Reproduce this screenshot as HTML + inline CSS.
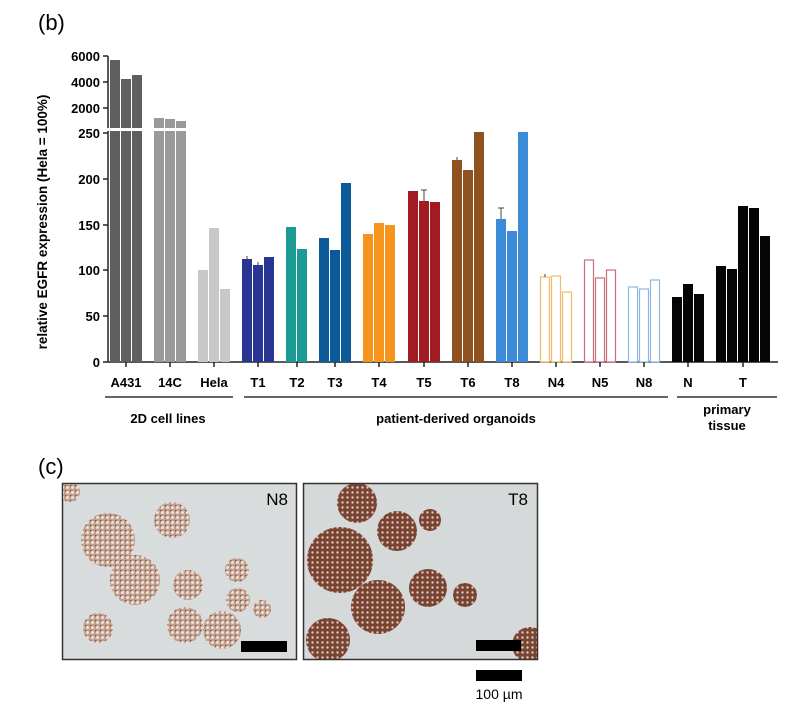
<!DOCTYPE html>
<html><head><meta charset="utf-8"><style>
html,body{margin:0;padding:0;background:#fff}
svg{display:block}
text{font-family:"Liberation Sans",Arial,sans-serif}
.b{font-weight:bold}
</style></head><body>
<svg width="798" height="715" viewBox="0 0 798 715" xmlns="http://www.w3.org/2000/svg">
<defs>
<pattern id="cells" width="5" height="5" patternUnits="userSpaceOnUse">
<rect width="5" height="5" fill="#6e3320"/>
<circle cx="2.5" cy="2.5" r="1.2" fill="#e2c8b6"/>
</pattern>
<pattern id="cellsL" width="5" height="5" patternUnits="userSpaceOnUse">
<rect width="5" height="5" fill="#bf9480"/>
<circle cx="2.5" cy="2.5" r="1.5" fill="#ece2da"/>
<circle cx="0.7" cy="0.7" r="0.7" fill="#5a2a1a"/>
</pattern>
<clipPath id="c1"><rect x="63" y="484" width="233" height="175"/></clipPath>
<clipPath id="c2"><rect x="304" y="484" width="233" height="175"/></clipPath>
</defs>
<text x="38" y="30" font-size="22">(b)</text>
<text transform="translate(47,222) rotate(-90)" text-anchor="middle" font-size="13.5" class="b">relative EGFR expression (Hela = 100%)</text>
<g stroke="#222" stroke-width="1.5">
<line x1="108" y1="56" x2="108" y2="362"/>
<line x1="108" y1="362" x2="778" y2="362"/>
<line x1="103" y1="56" x2="108" y2="56"/><line x1="103" y1="82" x2="108" y2="82"/><line x1="103" y1="108" x2="108" y2="108"/>
<line x1="103" y1="133" x2="108" y2="133"/><line x1="103" y1="179" x2="108" y2="179"/><line x1="103" y1="225" x2="108" y2="225"/>
<line x1="103" y1="270" x2="108" y2="270"/><line x1="103" y1="316" x2="108" y2="316"/><line x1="103" y1="362" x2="108" y2="362"/>
</g>
<g font-size="13" class="b" text-anchor="end">
<text x="100" y="61">6000</text><text x="100" y="87">4000</text><text x="100" y="113">2000</text>
<text x="100" y="138">250</text><text x="100" y="184">200</text><text x="100" y="230">150</text>
<text x="100" y="275">100</text><text x="100" y="321">50</text><text x="100" y="367">0</text>
</g>
<g fill="#5f5f5f"><rect x="110" y="60" width="10" height="302"/><rect x="121" y="79" width="10" height="283"/><rect x="132" y="75" width="10" height="287"/></g>
<g fill="#9a9a9a"><rect x="154" y="118" width="10" height="244"/><rect x="165" y="119" width="10" height="243"/><rect x="176" y="121" width="10" height="241"/></g>
<g fill="#c8c8c8"><rect x="198" y="270" width="10" height="92"/><rect x="209" y="228" width="10" height="134"/><rect x="220" y="289" width="10" height="73"/></g>
<g fill="#283593"><rect x="242" y="259" width="10" height="103"/><rect x="253" y="265" width="10" height="97"/><rect x="264" y="257" width="10" height="105"/></g>
<g fill="#1c9a94"><rect x="286" y="227" width="10" height="135"/><rect x="297" y="249" width="10" height="113"/></g>
<g fill="#0d5a9a"><rect x="319" y="238" width="10" height="124"/><rect x="330" y="250" width="10" height="112"/><rect x="341" y="183" width="10" height="179"/></g>
<g fill="#f7941d"><rect x="363" y="234" width="10" height="128"/><rect x="374" y="223" width="10" height="139"/><rect x="385" y="225" width="10" height="137"/></g>
<g fill="#a01b22"><rect x="408" y="191" width="10" height="171"/><rect x="419" y="201" width="10" height="161"/><rect x="430" y="202" width="10" height="160"/></g>
<g fill="#8f521f"><rect x="452" y="160" width="10" height="202"/><rect x="463" y="170" width="10" height="192"/><rect x="474" y="132" width="10" height="230"/></g>
<g fill="#3b8bd6"><rect x="496" y="219" width="10" height="143"/><rect x="507" y="231" width="10" height="131"/><rect x="518" y="132" width="10" height="230"/></g>
<g fill="#fff" stroke-width="1.2">
<g stroke="#f4b96a"><rect x="540.5" y="277" width="9" height="85"/><rect x="551.5" y="276" width="9" height="86"/><rect x="562.5" y="292" width="9" height="70"/></g>
<g stroke="#c96f78"><rect x="584.5" y="260" width="9" height="102"/><rect x="595.5" y="278" width="9" height="84"/><rect x="606.5" y="270" width="9" height="92"/></g>
<g stroke="#8fb6e3"><rect x="628.5" y="287" width="9" height="75"/><rect x="639.5" y="289" width="9" height="73"/><rect x="650.5" y="280" width="9" height="82"/></g>
</g>
<g fill="#050505"><rect x="672" y="297" width="10" height="65"/><rect x="683" y="284" width="10" height="78"/><rect x="694" y="294" width="10" height="68"/>
<rect x="716" y="266" width="10" height="96"/><rect x="727" y="269" width="10" height="93"/><rect x="738" y="206" width="10" height="156"/><rect x="749" y="208" width="10" height="154"/><rect x="760" y="236" width="10" height="126"/></g>
<g stroke="#444" stroke-width="1"><line x1="247" y1="259" x2="247" y2="256"/><line x1="258" y1="265" x2="258" y2="262"/><line x1="424" y1="201" x2="424" y2="190"/><line x1="421" y1="190" x2="427" y2="190"/><line x1="457" y1="160" x2="457" y2="157"/><line x1="501" y1="219" x2="501" y2="208"/><line x1="498" y1="208" x2="504" y2="208"/><line x1="545" y1="277" x2="545" y2="274"/></g>
<rect x="100" y="128" width="90" height="3" fill="#fff"/>
<g stroke="#222" stroke-width="1.5">
<line x1="126" y1="362" x2="126" y2="367"/><line x1="170" y1="362" x2="170" y2="367"/><line x1="214" y1="362" x2="214" y2="367"/><line x1="258" y1="362" x2="258" y2="367"/><line x1="297" y1="362" x2="297" y2="367"/><line x1="335" y1="362" x2="335" y2="367"/><line x1="379" y1="362" x2="379" y2="367"/><line x1="424" y1="362" x2="424" y2="367"/><line x1="468" y1="362" x2="468" y2="367"/><line x1="512" y1="362" x2="512" y2="367"/><line x1="556" y1="362" x2="556" y2="367"/><line x1="600" y1="362" x2="600" y2="367"/><line x1="644" y1="362" x2="644" y2="367"/><line x1="688" y1="362" x2="688" y2="367"/><line x1="743" y1="362" x2="743" y2="367"/>
</g>
<g font-size="13" class="b" text-anchor="middle">
<text x="126" y="387">A431</text><text x="170" y="387">14C</text><text x="214" y="387">Hela</text><text x="258" y="387">T1</text><text x="297" y="387">T2</text><text x="335" y="387">T3</text><text x="379" y="387">T4</text><text x="424" y="387">T5</text><text x="468" y="387">T6</text><text x="512" y="387">T8</text><text x="556" y="387">N4</text><text x="600" y="387">N5</text><text x="644" y="387">N8</text><text x="688" y="387">N</text><text x="743" y="387">T</text>
</g>
<g stroke="#333" stroke-width="1.5"><line x1="105" y1="397" x2="233" y2="397"/><line x1="244" y1="397" x2="668" y2="397"/><line x1="677" y1="397" x2="777" y2="397"/></g>
<g font-size="13" class="b" text-anchor="middle">
<text x="168" y="423">2D cell lines</text><text x="456" y="423">patient-derived organoids</text><text x="727" y="414">primary</text><text x="727" y="430">tissue</text>
</g>
<text x="38" y="474" font-size="22">(c)</text>
<rect x="62.5" y="483.5" width="234" height="176" fill="#d9dcdc" stroke="#333" stroke-width="1.5"/>
<rect x="303.5" y="483.5" width="234" height="176" fill="#d6d9d9" stroke="#333" stroke-width="1.5"/>
<g opacity="0.85" clip-path="url(#c1)">
<circle cx="108" cy="540" r="27" fill="url(#cellsL)"/><circle cx="135" cy="580" r="25" fill="url(#cellsL)"/>
<circle cx="172" cy="520" r="18" fill="url(#cellsL)"/><circle cx="98" cy="628" r="15" fill="url(#cellsL)"/>
<circle cx="185" cy="625" r="18" fill="url(#cellsL)"/><circle cx="188" cy="585" r="15" fill="url(#cellsL)"/>
<circle cx="222" cy="630" r="19" fill="url(#cellsL)"/><circle cx="237" cy="570" r="12" fill="url(#cellsL)"/>
<circle cx="238" cy="600" r="12" fill="url(#cellsL)"/><circle cx="262" cy="609" r="9" fill="url(#cellsL)"/>
<circle cx="70" cy="492" r="10" fill="url(#cellsL)"/>
</g>
<g opacity="0.9" clip-path="url(#c2)">
<circle cx="340" cy="560" r="33" fill="url(#cells)"/><circle cx="328" cy="640" r="22" fill="url(#cells)"/>
<circle cx="357" cy="503" r="20" fill="url(#cells)"/><circle cx="397" cy="531" r="20" fill="url(#cells)"/>
<circle cx="378" cy="607" r="27" fill="url(#cells)"/><circle cx="428" cy="588" r="19" fill="url(#cells)"/>
<circle cx="465" cy="595" r="12" fill="url(#cells)"/><circle cx="430" cy="520" r="11" fill="url(#cells)"/>
<circle cx="530" cy="645" r="18" fill="url(#cells)"/>
</g>
<text x="288" y="505" font-size="17" text-anchor="end">N8</text>
<text x="528" y="505" font-size="17" text-anchor="end">T8</text>
<rect x="241" y="641" width="46" height="11" fill="#000"/>
<rect x="476" y="640" width="45" height="11" fill="#000"/>
<rect x="476" y="670" width="46" height="11" fill="#000"/>
<text x="499" y="699" font-size="14" text-anchor="middle">100 µm</text>
</svg>
</body></html>
